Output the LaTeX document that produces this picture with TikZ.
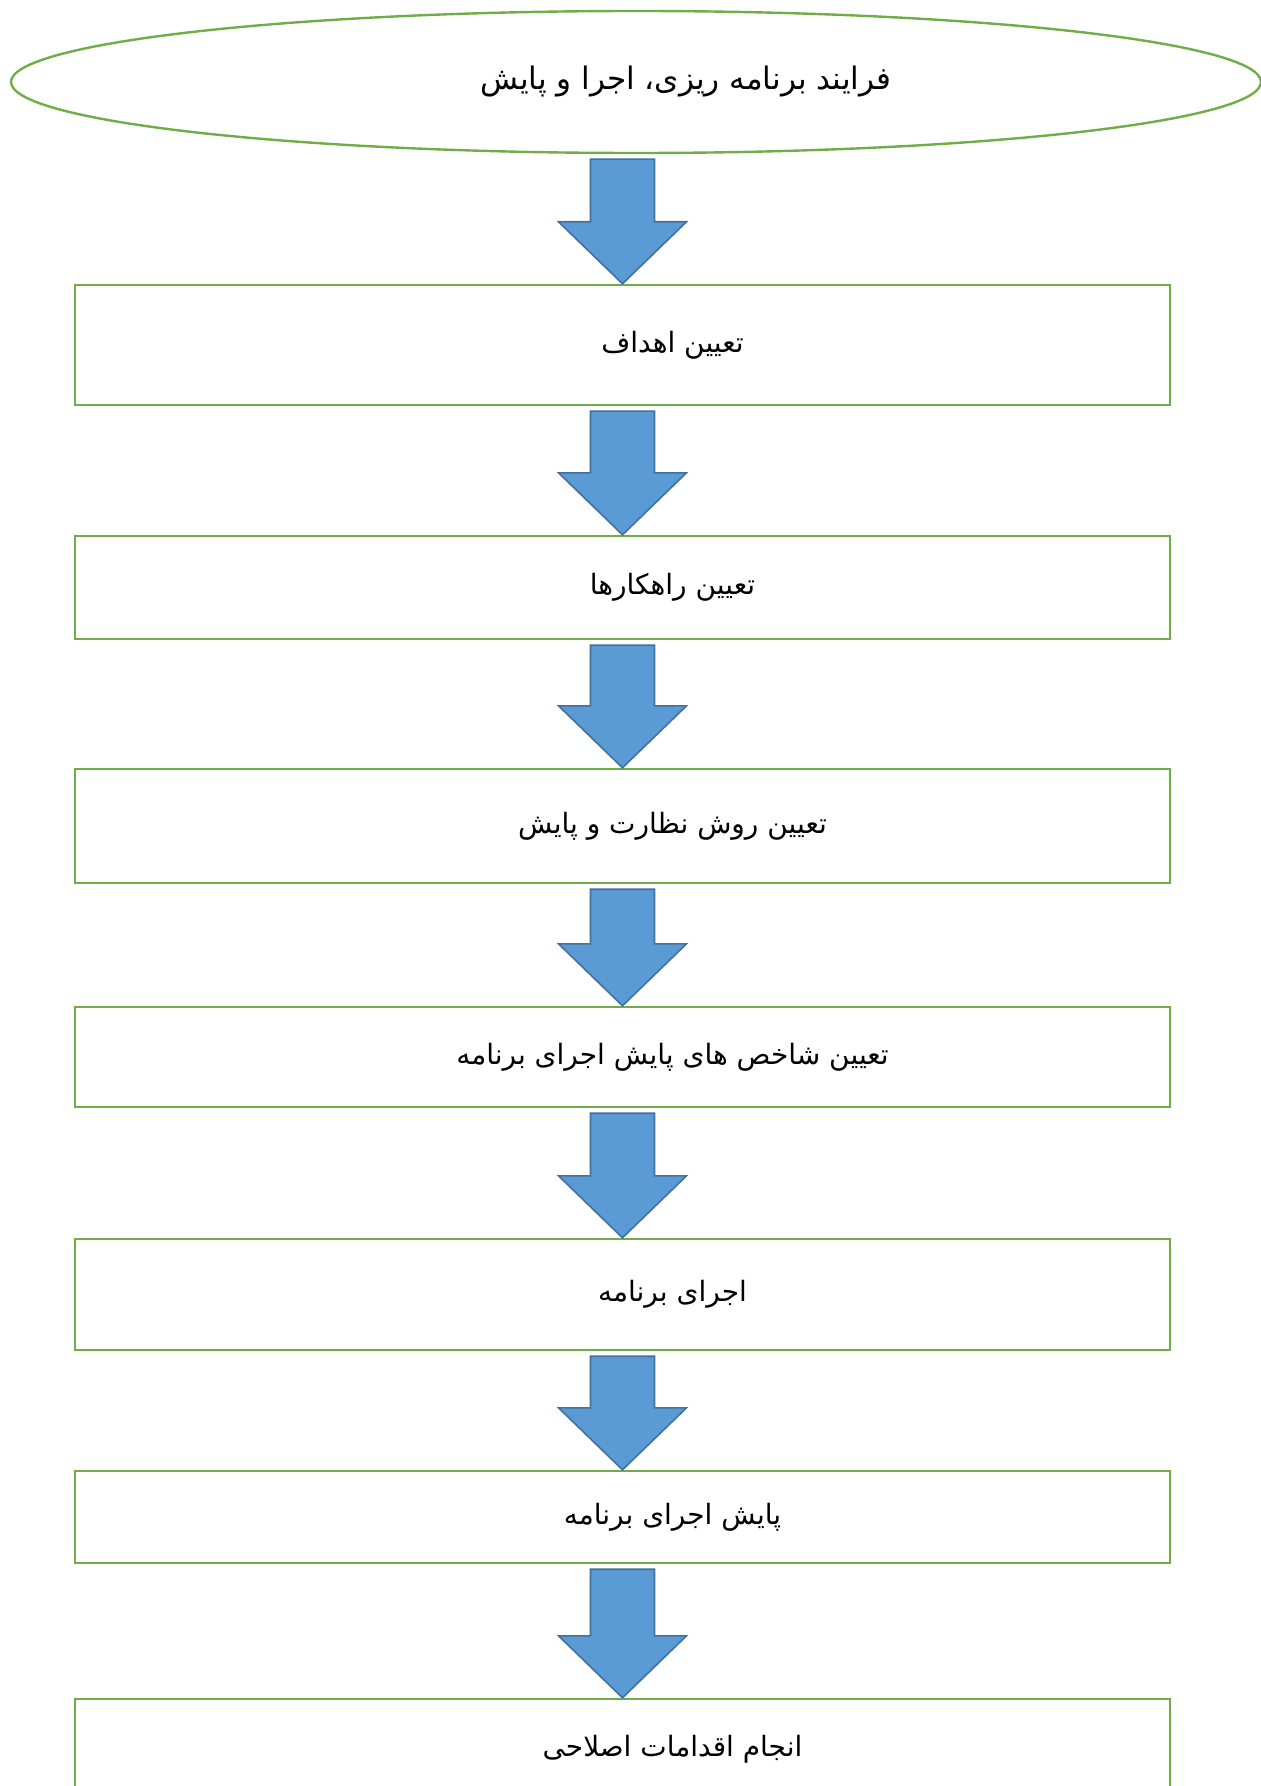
\documentclass[tikz,border=0pt]{standalone}
\usepackage{fontspec}
\newfontfamily\arabicfont[Script=Arabic]{DejaVu Sans}
\TeXXeTstate=1
\usetikzlibrary{shapes,positioning,calc}
\definecolor{boxgreen}{RGB}{112,173,71}
\definecolor{arrowblue}{RGB}{91,155,213}
\definecolor{arrowedge}{RGB}{65,113,156}
\tikzstyle{stepbox}=[draw=boxgreen, line width=1.2pt, rectangle, minimum width=547.5pt, inner sep=0pt, font=\arabicfont\fontsize{14}{16}\selectfont]
\tikzstyle{startnode}=[draw=boxgreen, line width=1.2pt, ellipse, minimum width=625pt, minimum height=71pt, inner sep=0pt, font=\arabicfont\fontsize{15.5}{18}\selectfont]
\tikzstyle{blockarrow}=[fill=arrowblue, draw=arrowedge, line width=0.8pt, line join=miter]
\newcommand{\fa}[1]{\hspace*{50pt}\beginR #1\endR}
% block arrow from the bottom of #1 to the top of #2
\newcommand{\blockdown}[2]{%
  \draw[blockarrow] let \p1=(#1.south), \p2=(#2.north) in
    (\x2-16pt,\y1-2.5pt) -- (\x2-16pt,\y2+31pt) -- (\x2-32pt,\y2+31pt) -- (\x2,\y2)
    -- (\x2+32pt,\y2+31pt) -- (\x2+16pt,\y2+31pt) -- (\x2+16pt,\y1-2.5pt) -- cycle;}

\begin{document}
\begin{tikzpicture}[x=0.5pt, y=-0.5pt]
    \useasboundingbox (0,0) rectangle (1261,1786);

    % nodes
    \node[startnode] (start) at (636, 82) {\fa{فرایند برنامه ریزی، اجرا و پایش}};
    \node[stepbox, minimum height=60pt] (goals) at (622.5, 345) {\fa{تعیین اهداف}};
    \node[stepbox, minimum height=51.5pt] (ways) at (622.5, 587.5) {\fa{تعیین راهکارها}};
    \node[stepbox, minimum height=57pt] (method) at (622.5, 826) {\fa{تعیین روش نظارت و پایش}};
    \node[stepbox, minimum height=50pt] (index) at (622.5, 1057) {\fa{تعیین شاخص های پایش اجرای برنامه}};
    \node[stepbox, minimum height=55.5pt] (run) at (622.5, 1294.5) {\fa{اجرای برنامه}};
    \node[stepbox, minimum height=46pt] (watch) at (622.5, 1517) {\fa{پایش اجرای برنامه}};
    \node[stepbox, minimum height=50pt] (fix) at (622.5, 1749) {\fa{انجام اقدامات اصلاحی}};

    % Arrows
    \blockdown{start}{goals}
    \blockdown{goals}{ways}
    \blockdown{ways}{method}
    \blockdown{method}{index}
    \blockdown{index}{run}
    \blockdown{run}{watch}
    \blockdown{watch}{fix}

\end{tikzpicture}
\end{document}
